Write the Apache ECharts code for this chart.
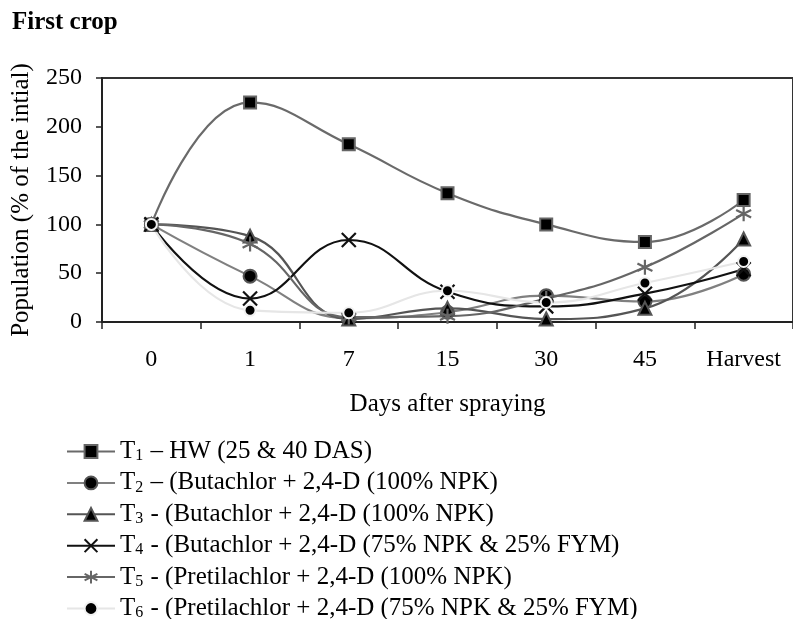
<!DOCTYPE html>
<html>
<head>
<meta charset="utf-8">
<script src="https://cdn.jsdelivr.net/npm/echarts@6/dist/echarts.min.js"></script>
<style>
html,body{margin:0;padding:0;background:#fff;}
#chart{width:793px;height:619px;}
</style>
</head>
<body>
<div id="chart"></div>
<script>
const categories = ['0', '1', '7', '15', '30', '45', 'Harvest'];
const yTicks = [0, 50, 100, 150, 200, 250];

const t1 = [100, 225, 182, 132, 100, 82, 125];
const t2 = [100, 47, 4, 10, 27, 21, 49];
const t3 = [100, 88, 3, 14, 3, 14, 85];
const t4 = [100, 24, 84, 31, 16, 29, 54];
const t5 = [100, 80, 5, 6, 24, 56, 111];
const t6 = [100, 12, 9.5, 32, 20, 40, 62];

const seriesNames = ['T1', 'T2', 'T3', 'T4', 'T5', 'T6'];
const legendSub = ['1', '2', '3', '4', '5', '6'];
const legendText = [
  ' \u2013 HW (25 & 40 DAS)',
  ' \u2013 (Butachlor + 2,4-D (100% NPK)',
  ' - (Butachlor + 2,4-D (100% NPK)',
  ' - (Butachlor + 2,4-D (75% NPK & 25% FYM)',
  ' - (Pretilachlor + 2,4-D (100% NPK)',
  ' - (Pretilachlor + 2,4-D (75% NPK & 25% FYM)'
];

const FONT = 'Liberation Serif, Times New Roman, serif';
const xSym = 'path://M0,0L10,10M10,0L0,10';
const starSym = 'path://M5,0L5,10M0.7,2.5L9.3,7.5M0.7,7.5L9.3,2.5';

function mk(name, data, lineColor, symbol, size, fill, border, bw) {
  return {
    name: name, type: 'line', data: data, smooth: 0.45,
    symbol: symbol, symbolSize: size,
    lineStyle: { color: lineColor, width: 2.2 },
    itemStyle: { color: fill, borderColor: border, borderWidth: bw },
    emphasis: { disabled: true }
  };
}

const chart = echarts.init(document.getElementById('chart'), null, { renderer: 'canvas' });
chart.setOption({
  animation: false,
  backgroundColor: '#fff',
  title: {
    text: 'First crop', left: 12, top: 10, padding: 0,
    textStyle: { fontFamily: FONT, fontSize: 25, fontWeight: 'bold', color: '#000' }
  },
  grid: {
    left: 102, top: 78, width: 693, height: 244,
    show: true, borderColor: '#333', borderWidth: 2, backgroundColor: 'transparent'
  },
  legend: {
    orient: 'vertical', left: 66, top: 438, height: 300, padding: 0,
    itemWidth: 48, itemHeight: 16, itemGap: 5.4,
    data: seriesNames,
    formatter: function (name) {
      const i = seriesNames.indexOf(name);
      return '{t|T}{s|' + legendSub[i] + '}{t|' + legendText[i] + '}';
    },
    textStyle: {
      fontFamily: FONT, fontSize: 25, color: '#000',
      rich: {
        t: { fontFamily: FONT, fontSize: 25, lineHeight: 25, color: '#000', verticalAlign: 'top' },
        s: { fontFamily: FONT, fontSize: 16, lineHeight: 16, color: '#000', verticalAlign: 'bottom', padding: [10, 1, 0, 0] }
      }
    }
  },
  xAxis: {
    type: 'category', data: categories, boundaryGap: true,
    name: 'Days after spraying', nameLocation: 'middle', nameGap: 70,
    nameTextStyle: { fontFamily: FONT, fontSize: 25, color: '#000' },
    axisLine: { lineStyle: { color: '#222', width: 2 } },
    axisTick: { show: true, length: 7, lineStyle: { color: '#222', width: 1.5 } },
    axisLabel: { fontFamily: FONT, fontSize: 24, color: '#000', margin: 26, interval: 0 },
    splitLine: { show: false }
  },
  yAxis: {
    type: 'value', min: 0, max: 250, interval: 50,
    name: 'Population (% of the intial)', nameLocation: 'middle', nameGap: 68,
    nameTextStyle: { fontFamily: FONT, fontSize: 25, color: '#000' },
    axisLine: { show: true, lineStyle: { color: '#222', width: 2 } },
    axisTick: { show: true, length: 6, lineStyle: { color: '#222', width: 1.5 } },
    axisLabel: {
      fontFamily: FONT, fontSize: 24, color: '#000', margin: 20,
      formatter: function (v) { return yTicks.indexOf(v) >= 0 ? String(v) : ''; }
    },
    splitLine: { show: false }
  },
  series: [
    mk('T1', t1, '#6a6a6a', 'rect', 12, '#000', '#666', 2),
    mk('T2', t2, '#808080', 'circle', 13, '#000', '#555', 2),
    mk('T3', t3, '#555555', 'triangle', 13, '#000', '#555', 2),
    mk('T4', t4, '#111111', xSym, 14, 'none', '#111', 2.2),
    mk('T5', t5, '#666666', starSym, 15, 'none', '#666', 2.2),
    mk('T6', t6, '#e6e6e6', 'circle', 11, '#000', '#f2f2f2', 2)
  ]
});
</script>
</body>
</html>
